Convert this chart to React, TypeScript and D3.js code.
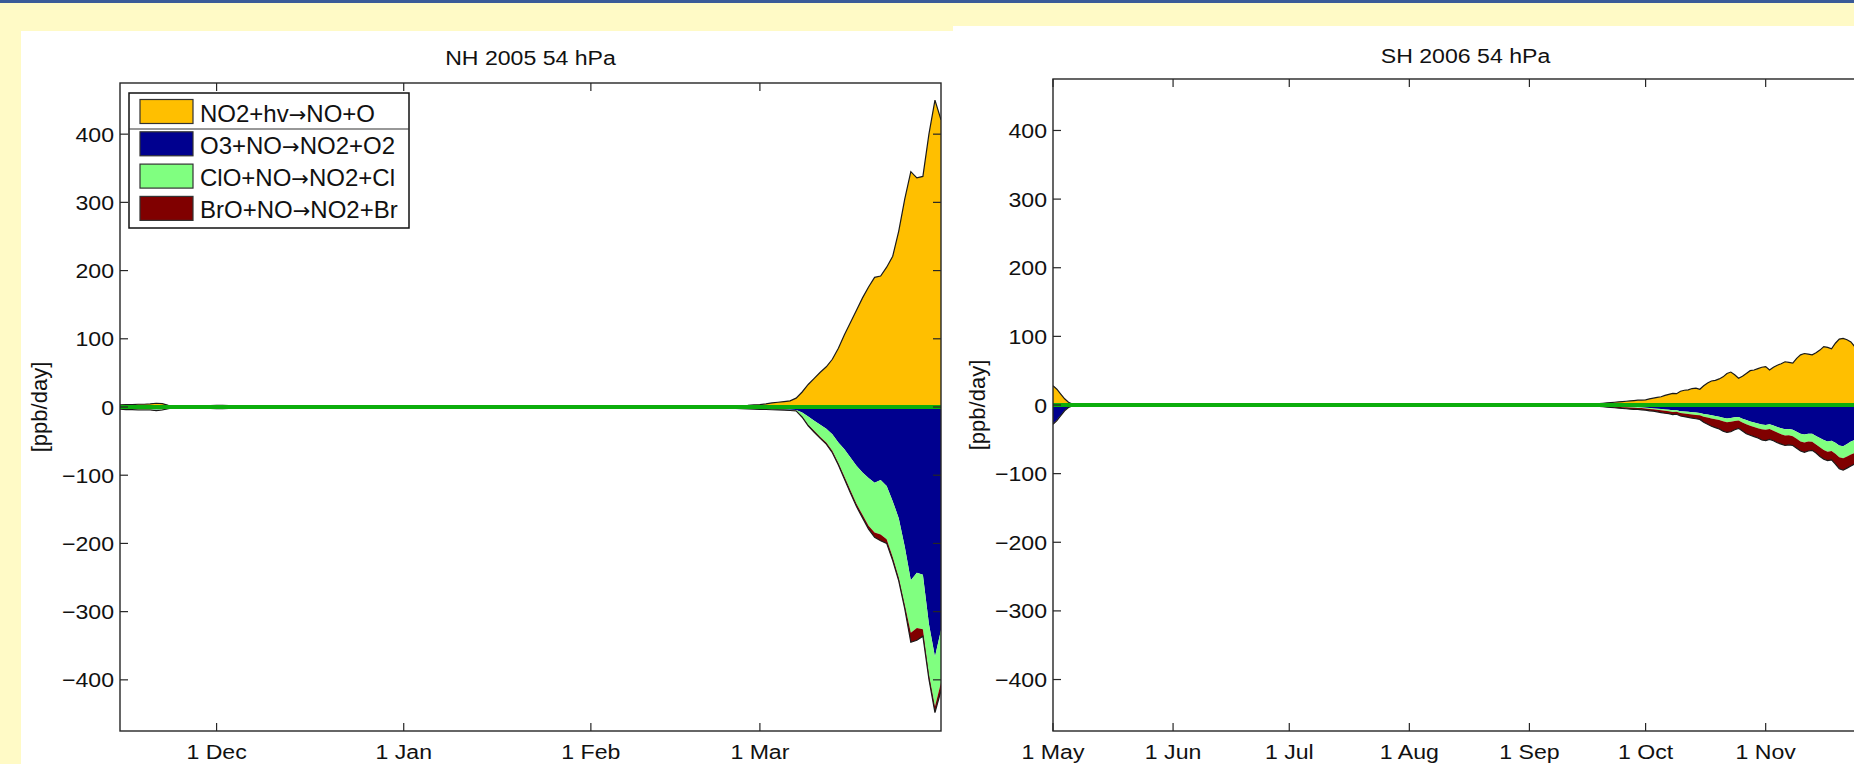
import React from "react";
import * as d3 from "d3";

// NH winter: day offsets from 15 Nov 2004
const nhStart = new Date(2004, 10, 15);
const nhEnd = new Date(2005, 2, 31);
const nhDays = [0, 1, 2, 3, 4, 5, 6, 7, 8, 9, 10, 12, 14, 15, 16, 17, 18, 19, 20, 22, 30, 50, 70, 90, 96, 100, 102, 104, 105,
  106, 107, 108, 109, 110, 111, 112, 113, 114, 115, 116, 117, 118, 119, 120, 121, 122, 123, 124, 125, 126, 127, 128, 129, 130, 131, 132, 133, 134, 135, 136];
const nhNO2hv = [3, 3.5, 3.5, 4, 4, 4.5, 5.5, 5, 2.5, 1, 0.5, 0.3, 1, 2, 2.5, 2.5, 2, 1, 0.5, 0.2, 0, 0, 0, 0.3, 0.8, 1.5, 2, 2.5, 3,
  3.5, 4.5, 6, 7, 8, 9, 13, 22, 33, 42, 51, 59, 70, 86, 106, 124, 142, 160, 176, 190, 192, 205, 221, 258, 305, 345, 336, 338, 400, 450, 421];
const nhO3NO = [2, 2.5, 2.5, 3, 3, 3, 3.5, 3, 1.5, 0.7, 0.3, 0.2, 0.7, 1.2, 1.5, 1.5, 1.2, 0.6, 0.3, 0.1, 0, 0, 0, 0.2, 0.6, 1.2, 1.6, 2, 2.3,
  2.5, 2.8, 3, 3.2, 3.5, 4, 4.5, 8, 14, 20, 26, 32, 40, 52, 62, 74, 86, 96, 104, 111, 107, 116, 138, 163, 205, 254, 243, 246, 318, 366, 327];
const nhClONO = [0.8, 1, 1, 1, 1, 1, 1.2, 1, 0.6, 0.3, 0.1, 0, 0.3, 0.5, 0.6, 0.6, 0.5, 0.3, 0.1, 0, 0, 0, 0, 0.1, 0.2, 0.3, 0.4, 0.4, 0.5,
  0.5, 0.5, 0.5, 0.5, 0.5, 0.5, 0.5, 6, 12, 15, 18, 20, 24, 30, 40, 48, 56, 62, 70, 73, 80, 78, 82, 87, 85, 77, 81, 80, 74, 73, 77];
const nhBrONO = [0.3, 0.4, 0.4, 0.4, 0.4, 0.4, 0.5, 0.4, 0.3, 0.1, 0, 0, 0.1, 0.2, 0.2, 0.2, 0.2, 0.1, 0, 0, 0, 0, 0, 0, 0.1, 0.2, 0.2, 0.3, 0.3,
  0.4, 0.4, 0.5, 0.5, 0.5, 0.6, 0.8, 1, 1.5, 2, 2, 2.5, 3, 3, 3.5, 4, 4, 4.5, 5, 7, 9, 6, 5, 5, 6, 14, 18, 10, 7, 9, 12];
const nhTicks = [new Date(2004, 11, 1), new Date(2005, 0, 1), new Date(2005, 1, 1), new Date(2005, 2, 1)];

// SH spring: day offsets from 1 May 2006
const shStart = new Date(2006, 4, 1);
const shEnd = new Date(2006, 10, 30);
const shDays = [0, 1, 2, 3, 4, 5, 6, 8, 9, 10, 11, 12, 14, 30, 60, 90, 120, 130, 135,
  140, 141, 142, 143, 144, 145, 146, 147, 148, 149, 150, 151, 152, 153, 154, 155, 156, 157, 158, 159,
  160, 161, 162, 163, 164, 165, 166, 167, 168, 169, 170, 171, 172, 173, 174, 175, 176, 177, 178, 179,
  180, 181, 182, 183, 184, 185, 186, 187, 188, 189, 190, 191, 192, 193, 194, 195, 196, 197, 198, 199,
  200, 201, 202, 203, 204, 205, 206, 207, 208];
const shNO2hv = [28, 23, 16, 9, 4, 1.5, 0.5, 0.3, 1.2, 2, 1.5, 0.5, 0, 0, 0, 0, 0, 0.3, 0.8,
  1.5, 2, 2.5, 3, 3.5, 4, 4.5, 5, 5.5, 6, 6.5, 7, 7, 7.5, 9, 10, 11, 12, 14, 15.5,
  17, 16.5, 20, 21.5, 22, 24, 24.5, 23, 28, 32, 35, 36, 38, 41, 46, 48, 44, 39, 42, 46,
  50, 51, 53, 55, 56, 51, 55, 58, 60, 63, 62, 61, 68, 73, 75, 74, 73, 76, 80, 85,
  84, 82, 90, 96, 97, 95, 92, 85, 80];
const shO3NO = [27, 22, 15, 8, 3.5, 1.3, 0.4, 0.3, 1.2, 2, 1.5, 0.5, 0, 0, 0, 0, 0, 0.2, 0.5,
  0.8, 1, 1.2, 1.5, 1.8, 2, 2.2, 2.5, 2.8, 3, 3.3, 3.4, 3.6, 4, 4.5, 5, 5.5, 6, 6.5, 7,
  7.8, 7.5, 9, 9.5, 10, 10.5, 11, 11.5, 13, 14, 15, 16, 17, 18.5, 19.5, 19, 18, 17.5, 20, 22,
  24, 25.5, 27, 28.5, 29, 28, 30, 32, 34, 35.5, 35, 36, 39, 42, 43, 42, 42, 45, 48, 51,
  53, 52, 55, 59, 60, 57, 53, 51, 50];
const shClONO = [0.5, 0.4, 0.3, 0.2, 0.1, 0, 0, 0, 0, 0.1, 0, 0, 0, 0, 0, 0, 0, 0, 0.1,
  0.2, 0.3, 0.3, 0.4, 0.4, 0.5, 0.5, 0.6, 0.6, 0.7, 0.7, 0.8, 0.9, 1, 1.2, 1.3, 1.5, 1.7, 1.9, 2,
  2.3, 2.2, 2.6, 2.8, 3, 3.2, 3.4, 3.6, 4, 4.3, 4.6, 4.8, 5, 5.3, 5.5, 5.5, 5.2, 5, 5.5, 6,
  6.3, 6.5, 6.8, 7, 7.2, 7, 7.5, 8, 8.5, 9, 9, 9.5, 10, 11, 11.5, 11, 11.5, 12.5, 13.5, 14.5,
  15, 15, 16, 17, 17.5, 18, 19, 19, 19];
const shBrONO = [0.5, 0.4, 0.3, 0.2, 0.1, 0, 0, 0, 0, 0, 0, 0, 0, 0, 0, 0, 0, 0.1, 0.2,
  0.5, 0.7, 1, 1.1, 1.3, 1.5, 1.8, 1.9, 2.1, 2.3, 2.5, 2.3, 2.5, 2.5, 2.8, 2.7, 3, 3.3, 3.6, 3.5,
  3.9, 3.8, 4.4, 4.7, 5, 5.3, 5.6, 5.9, 8, 9.7, 11.4, 12.2, 13, 14.2, 15, 14.5, 12.8, 11.5, 12.5, 14,
  13.7, 14, 14.2, 15.5, 15.8, 15, 14.5, 15, 14.5, 14.5, 14, 13.5, 14, 14, 14.5, 14, 12.5, 12.5, 13.5, 13.5,
  13, 13, 15, 17, 17.5, 17, 17, 16, 15];
const shTicks = [new Date(2006, 4, 1), new Date(2006, 5, 1), new Date(2006, 6, 1), new Date(2006, 7, 1),
  new Date(2006, 8, 1), new Date(2006, 9, 1), new Date(2006, 10, 1)];

const yTicks = [-400, -300, -200, -100, 0, 100, 200, 300, 400];
// reactant / product halves of each legend label, joined by an arrow
const legendLeft = ["NO2+hv", "O3+NO", "ClO+NO", "BrO+NO"];
const legendRight = ["NO+O", "NO2+O2", "NO2+Cl", "NO2+Br"];
const colors = ["#FFBF00", "#00008F", "#80FF80", "#800000"];

const FONT = "'Liberation Sans', Arial, Helvetica, sans-serif";
const SX = 1.1;
const fmt = d3.timeFormat("%-d %b");

function Panel(props: any) {
  const { id, title, start, end, days, no2, o3, clo, bro, ticks, left, right, top, bottom, titleY, ylabelX, legend } = props;
  const x = d3.scaleTime().domain([start, end]).range([left, right]);
  const y = d3.scaleLinear().domain([-475, 475]).range([bottom, top]);

  const rows = days.map((d: number, i: number) => {
    const b = -o3[i];
    const g = b - clo[i];
    const r = g - bro[i];
    return { date: d3.timeDay.offset(start, d), p: no2[i], b, g, r };
  });
  const area = (f0: any, f1: any) =>
    d3.area<any>().x((d) => x(d.date)).y0((d) => y(f0(d))).y1((d) => y(f1(d)))(rows) || "";
  const line = (f: any) => d3.line<any>().x((d) => x(d.date)).y((d) => y(f(d)))(rows) || "";

  const cx = (left + right) / 2;
  const cy = (top + bottom) / 2;

  return (
    <g>
      <defs>
        <clipPath id={id}>
          <rect x={left} y={top} width={right - left} height={bottom - top} />
        </clipPath>
      </defs>
      <g clipPath={`url(#${id})`}>
        <path d={area(() => 0, (d: any) => d.p)} fill={colors[0]} />
        <path d={area(() => 0, (d: any) => d.b)} fill={colors[1]} />
        <path d={area((d: any) => d.b, (d: any) => d.g)} fill={colors[2]} />
        <path d={area((d: any) => d.g, (d: any) => d.r)} fill={colors[3]} />
        <path d={line((d: any) => d.p)} fill="none" stroke="#1a1a1a" strokeWidth={1.2} />
        <path d={line((d: any) => d.r)} fill="none" stroke="#1a1a1a" strokeWidth={1.2} />
        <line x1={left} x2={right} y1={y(0)} y2={y(0)} stroke="#0CAD0C" strokeWidth={4} />
      </g>

      {/* frame and ticks */}
      <rect x={left} y={top} width={right - left} height={bottom - top} fill="none" stroke="#262626" strokeWidth={1.4} />
      {ticks.map((t: Date, i: number) => (
        <g key={"x" + i}>
          <line x1={x(t)} x2={x(t)} y1={bottom} y2={bottom - 8} stroke="#262626" strokeWidth={1.2} />
          <line x1={x(t)} x2={x(t)} y1={top} y2={top + 8} stroke="#262626" strokeWidth={1.2} />
          <text transform={`translate(${x(t)},759) scale(${SX},1)`} textAnchor="middle" fontSize={21} fontFamily={FONT} fill="#111">
            {fmt(t)}
          </text>
        </g>
      ))}
      {yTicks.map((v) => (
        <g key={"y" + v}>
          <line x1={left} x2={left + 8} y1={y(v)} y2={y(v)} stroke="#262626" strokeWidth={1.2} />
          <line x1={right} x2={right - 8} y1={y(v)} y2={y(v)} stroke="#262626" strokeWidth={1.2} />
          <text transform={`translate(${left - 6},${y(v) + 7.5}) scale(${SX},1)`} textAnchor="end" fontSize={21} fontFamily={FONT} fill="#111">
            {v < 0 ? "\u2212" + Math.abs(v) : String(v)}
          </text>
        </g>
      ))}

      <text transform={`translate(${cx},${titleY}) scale(${SX},1)`} textAnchor="middle" fontSize={21} fontFamily={FONT} fill="#111">
        {title}
      </text>
      <text transform={`translate(${ylabelX},${cy}) rotate(-90)`} textAnchor="middle" fontSize={22} fontFamily={FONT} fill="#111">
        [ppb/day]
      </text>

      {legend && (
        <g>
          <rect x={129} y={93} width={280} height={135} fill="#fff" stroke="#111" strokeWidth={1.5} />
          <line x1={129} x2={409} y1={129} y2={129} stroke="#333" strokeWidth={1.2} />
          {legendLeft.map((lab, i) => (
            <g key={lab}>
              <rect x={140} y={99.5 + i * 32.3} width={53} height={24} fill={colors[i]} stroke="#333" strokeWidth={1.2} />
              <text x={200} y={121.5 + i * 32.3} fontSize={24} fontFamily={FONT} fill="#111">
                {lab}
                <tspan fontFamily="'DejaVu Sans'" fontSize={21}>{"\u2192"}</tspan>
                {legendRight[i]}
              </text>
            </g>
          ))}
        </g>
      )}
    </g>
  );
}

export default function App() {
  const W = 1854;
  const H = 764;
  return (
    <svg width={W} height={H} style={{ position: "absolute", left: 0, top: 0, display: "block" }}>
      <rect x={0} y={0} width={W} height={H} fill="#FFFAC6" />
      <rect x={0} y={0} width={W} height={3} fill="#3A5A98" />
      <rect x={21} y={31} width={932} height={H - 31} fill="#fff" />
      <rect x={953} y={26} width={W - 953} height={H - 26} fill="#fff" />
      <Panel id="nh" title="NH 2005 54 hPa" start={nhStart} end={nhEnd} days={nhDays}
        no2={nhNO2hv} o3={nhO3NO} clo={nhClONO} bro={nhBrONO} ticks={nhTicks}
        left={120} right={941} top={83} bottom={731} titleY={65} ylabelX={47} legend />
      <Panel id="sh" title="SH 2006 54 hPa" start={shStart} end={shEnd} days={shDays}
        no2={shNO2hv} o3={shO3NO} clo={shClONO} bro={shBrONO} ticks={shTicks}
        left={1053} right={1878} top={79} bottom={731} titleY={63} ylabelX={985} />
    </svg>
  );
}
